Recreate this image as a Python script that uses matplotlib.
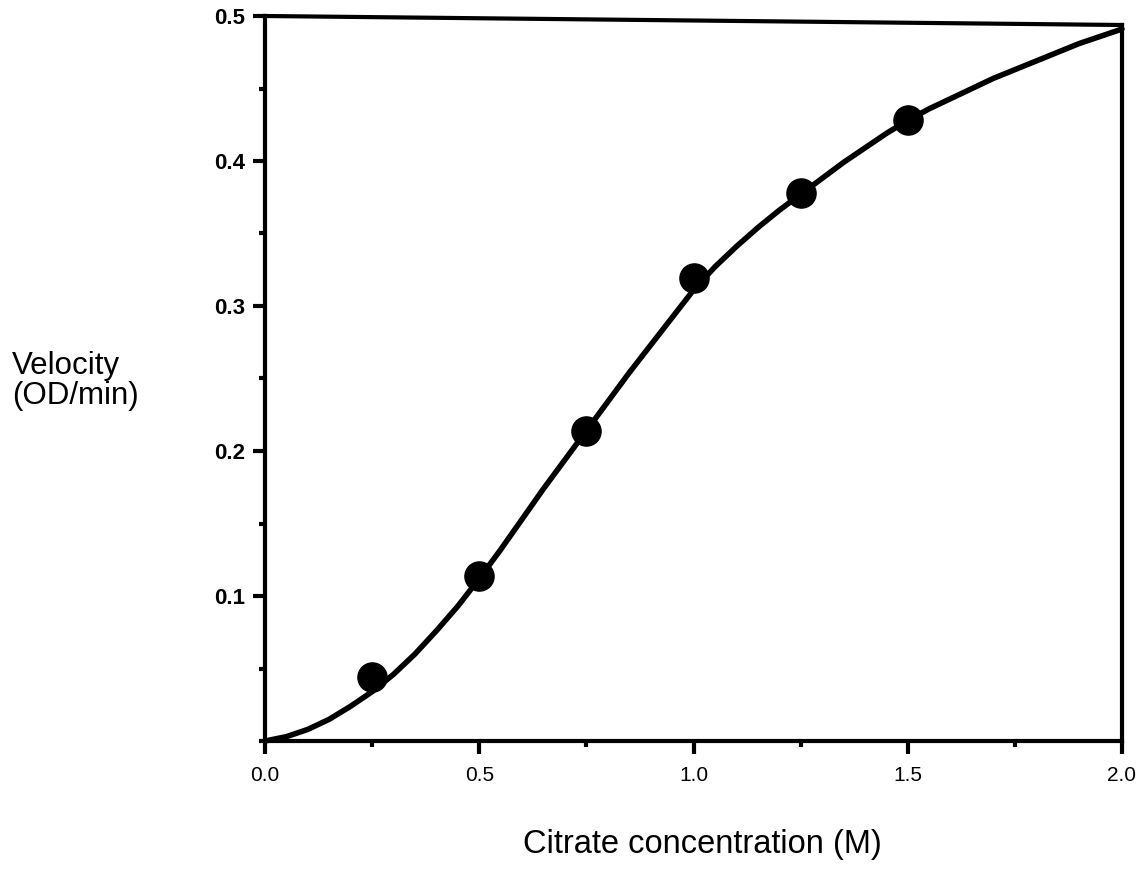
import matplotlib
matplotlib.use("Agg")
import matplotlib.pyplot as plt
from matplotlib.ticker import MultipleLocator, FixedLocator

plt.rcParams['font.family'] = ['Liberation Sans', 'DejaVu Sans']

# Measured data points
conc = [0.25, 0.50, 0.75, 1.00, 1.25, 1.50]
velocity = [0.044, 0.114, 0.214, 0.319, 0.378, 0.428]

# Fitted curve
curve_x = [0.00, 0.05, 0.10, 0.15, 0.20, 0.25, 0.30, 0.35, 0.40, 0.45,
           0.50, 0.55, 0.60, 0.65, 0.70, 0.75, 0.80, 0.85, 0.90, 0.95,
           1.00, 1.05, 1.10, 1.15, 1.20, 1.25, 1.30, 1.35, 1.40, 1.45,
           1.50, 1.55, 1.60, 1.65, 1.70, 1.75, 1.80, 1.85, 1.90, 1.95, 2.00]
curve_y = [0.000, 0.003, 0.008, 0.015, 0.024, 0.034, 0.046, 0.060, 0.076, 0.093,
           0.112, 0.132, 0.153, 0.174, 0.194, 0.214, 0.234, 0.254, 0.273, 0.292,
           0.311, 0.327, 0.341, 0.354, 0.366, 0.377, 0.388, 0.399, 0.409, 0.419,
           0.428, 0.436, 0.443, 0.450, 0.457, 0.463, 0.469, 0.475, 0.481, 0.486, 0.491]

x_ticks = [0.0, 0.5, 1.0, 1.5, 2.0]
x_ticklabels = ["0.0", "0.5", "1.0", "1.5", "2.0"]
y_ticks = [0.1, 0.2, 0.3, 0.4, 0.5]
y_ticklabels = ["0.1", "0.2", "0.3", "0.4", "0.5"]

fig = plt.figure(figsize=(11.42, 8.76), dpi=100)
ax = fig.add_axes([265 / 1142, 1 - 741 / 876, (1122 - 265) / 1142, (741 - 16) / 876])

ax.plot(curve_x, curve_y, color='black', lw=4.0, solid_capstyle='round',
        solid_joinstyle='round', clip_on=False, zorder=3)
ax.plot(conc, velocity, 'o', color='black', markersize=21, clip_on=False, zorder=4)

ax.set_xlim(0, 2.0)
ax.set_ylim(0, 0.5)

ax.xaxis.set_major_locator(FixedLocator(x_ticks))
ax.set_xticklabels(x_ticklabels, fontsize=15)
ax.xaxis.set_minor_locator(MultipleLocator(0.25))
ax.yaxis.set_major_locator(FixedLocator(y_ticks))
ax.set_yticklabels(y_ticklabels, fontsize=16, fontweight='bold')
ax.yaxis.set_minor_locator(MultipleLocator(0.05))

# Frame: the scanned original has a slightly sloping top edge
top_drop = 9 / 725
for name in ('left', 'bottom', 'right'):
    ax.spines[name].set_linewidth(3.0)
    ax.spines[name].set_color('black')
ax.spines['top'].set_visible(False)
ax.spines['right'].set_bounds(0, 0.5 * (1 - top_drop))
ax.plot([0, 1], [1, 1 - top_drop], transform=ax.transAxes, color='black', lw=3.0,
        solid_capstyle='projecting', clip_on=False, zorder=2)

ax.tick_params(axis='both', which='major', direction='out', length=9, width=3, color='black')
ax.tick_params(axis='both', which='minor', direction='out', length=4.5, width=3, color='black')
ax.tick_params(axis='x', which='major', pad=9)
ax.tick_params(axis='y', which='major', pad=5)

fig.text(12 / 1142, 1 - 381 / 876, "Velocity\n(OD/min)", fontsize=22.5,
         ha='left', va='center', multialignment='left', linespacing=1.0)
fig.text(702 / 1142, 1 - 853 / 876, "Citrate concentration (M)", fontsize=23.5,
         ha='center', va='baseline')

fig.savefig("out.png", dpi=100)
